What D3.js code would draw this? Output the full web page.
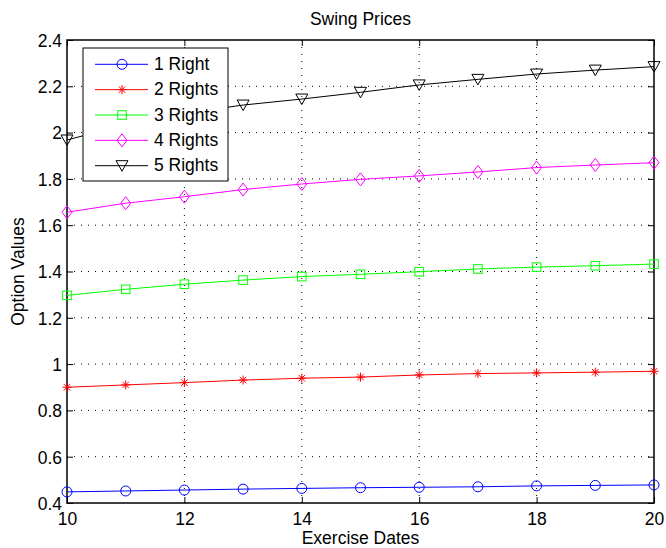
<!DOCTYPE html>
<html><head><meta charset="utf-8">
<script src="https://cdn.jsdelivr.net/npm/d3@7"></script>
<style>
html,body{margin:0;padding:0;background:#fff;}
svg{display:block;font-family:"Liberation Sans",Arial,Helvetica,sans-serif;}
</style></head>
<body><svg id="c" width="666" height="548"></svg>
<script>
const exerciseDates = [10,11,12,13,14,15,16,17,18,19,20];
const oneRight   = [0.448,0.452,0.456,0.460,0.463,0.466,0.468,0.470,0.474,0.476,0.478];
const twoRights  = [0.900,0.910,0.920,0.931,0.939,0.944,0.953,0.959,0.962,0.965,0.969];
const threeRights= [1.297,1.323,1.345,1.363,1.378,1.388,1.399,1.411,1.419,1.425,1.432];
const fourRights = [1.656,1.695,1.723,1.754,1.778,1.798,1.813,1.830,1.849,1.860,1.870];
const fiveRights = [1.968,2.035,2.083,2.119,2.145,2.174,2.206,2.230,2.253,2.270,2.285];
const seriesNames = ["1 Right","2 Rights","3 Rights","4 Rights","5 Rights"];
const seriesColors = ["#0000ff","#ff0000","#00ff00","#ff00ff","#000000"];
const seriesMarkers = ["circle","asterisk","square","diamond","triangle"];
const xTicks = [10,12,14,16,18,20];
const yTicks = [0.4,0.6,0.8,1,1.2,1.4,1.6,1.8,2,2.2,2.4];
const allValues = [oneRight,twoRights,threeRights,fourRights,fiveRights];

const svg = d3.select("#c");
const L=67,R=654,T=40,B=503;
const x = d3.scaleLinear().domain([10,20]).range([L,R]);
const y = d3.scaleLinear().domain([0.4,2.4]).range([B,T]);
const fs = 17.5;

// grid
const g = svg.append("g");
g.selectAll(".gx").data(xTicks.slice(1,-1)).join("line")
  .attr("x1",d=>x(d)).attr("x2",d=>x(d)).attr("y1",T).attr("y2",B)
  .attr("stroke","#000").attr("stroke-width",1).attr("stroke-dasharray","1,6");
g.selectAll(".gy").data(yTicks.slice(1,-1)).join("line")
  .attr("y1",d=>y(d)).attr("y2",d=>y(d)).attr("x1",L).attr("x2",R)
  .attr("stroke","#000").attr("stroke-width",1).attr("stroke-dasharray","1,6");

// axes via d3 axis (inner ticks)
const tk = 6;
const fmt = d=>String(+d.toFixed(1));
const ax = svg.append("g").attr("transform",`translate(0,${B})`)
  .call(d3.axisBottom(x).tickValues(xTicks).tickSize(-tk).tickPadding(tk+5).tickFormat(fmt));
const axT = svg.append("g").attr("transform",`translate(0,${T})`)
  .call(d3.axisTop(x).tickValues(xTicks).tickSize(-tk).tickFormat(""));
const ay = svg.append("g").attr("transform",`translate(${L},0)`)
  .call(d3.axisLeft(y).tickValues(yTicks).tickSize(-tk).tickPadding(5).tickFormat(fmt));
const ayR = svg.append("g").attr("transform",`translate(${R},0)`)
  .call(d3.axisRight(y).tickValues(yTicks).tickSize(-tk).tickFormat(""));
[ax,axT,ay,ayR].forEach(a=>{
  a.select(".domain").remove();
  a.selectAll(".tick line").attr("stroke","#000").attr("stroke-width",1);
  a.selectAll("text").attr("font-size",fs).attr("fill","#000").attr("font-family","Liberation Sans, Arial, sans-serif");
});
ax.selectAll("text").attr("dy",null).attr("y",22);
ay.selectAll("text").attr("dy","0.36em");

// box
svg.append("rect").attr("x",L).attr("y",T).attr("width",R-L).attr("height",B-T)
  .attr("fill","none").attr("stroke","#000").attr("stroke-width",1.5);

function drawMarker(sel, type, color){
  if(type==="circle") sel.append("circle").attr("r",5).attr("fill","none").attr("stroke",color).attr("stroke-width",1);
  else if(type==="square") sel.append("rect").attr("x",-4.3).attr("y",-4.3).attr("width",8.6).attr("height",8.6).attr("fill","none").attr("stroke",color).attr("stroke-width",1);
  else if(type==="diamond") sel.append("path").attr("d","M0,-6.5L5,0L0,6.5L-5,0Z").attr("fill","none").attr("stroke",color).attr("stroke-width",1);
  else if(type==="triangle") sel.append("path").attr("d","M-6,-5L6,-5L0,5.5Z").attr("fill","none").attr("stroke",color).attr("stroke-width",1);
  else if(type==="asterisk") sel.append("path").attr("d","M-4.5,0L4.5,0M0,-4.5L0,4.5M-3.2,-3.2L3.2,3.2M-3.2,3.2L3.2,-3.2").attr("fill","none").attr("stroke",color).attr("stroke-width",1);
}

const line = d3.line().x((d,i)=>x(exerciseDates[i])).y(d=>y(d));
allValues.forEach((vals,si)=>{
  const c = seriesColors[si];
  svg.append("path").datum(vals).attr("d",line).attr("fill","none").attr("stroke",c).attr("stroke-width",1);
  svg.append("g").selectAll("g").data(vals).join("g")
    .attr("transform",(d,i)=>`translate(${x(exerciseDates[i])},${y(d)})`)
    .each(function(){ drawMarker(d3.select(this), seriesMarkers[si], c); });
});

// legend
const lg = svg.append("g");
lg.append("rect").attr("x",83).attr("y",48).attr("width",145).attr("height",133)
  .attr("fill","#fff").attr("stroke","#000").attr("stroke-width",1);
seriesNames.forEach((n,i)=>{
  const cy = 64.3 + i*25.35;
  lg.append("line").attr("x1",95).attr("x2",148).attr("y1",cy).attr("y2",cy).attr("stroke",seriesColors[i]).attr("stroke-width",1);
  const m = lg.append("g").attr("transform",`translate(122,${cy})`);
  drawMarker(m, seriesMarkers[i], seriesColors[i]);
  lg.append("text").attr("x",154).attr("y",cy+5.5).attr("font-size",fs).attr("fill","#000").text(n);
});

// title and labels
svg.append("text").attr("x",(L+R)/2).attr("y",25).attr("text-anchor","middle").attr("font-size",fs).text("Swing Prices");
svg.append("text").attr("x",(L+R)/2).attr("y",544).attr("text-anchor","middle").attr("font-size",fs).text("Exercise Dates");
svg.append("text").attr("transform",`translate(24,${(T+B)/2}) rotate(-90)`).attr("text-anchor","middle").attr("font-size",fs).text("Option Values");
</script></body></html>
